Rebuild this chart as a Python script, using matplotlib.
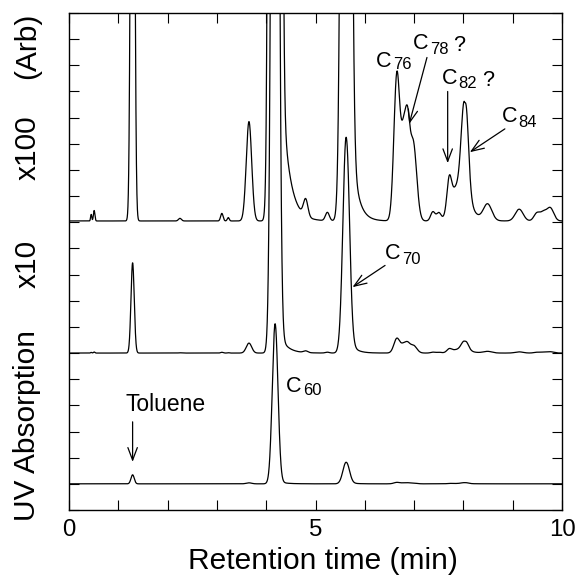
import numpy as np
import matplotlib
matplotlib.use("Agg")
import matplotlib.pyplot as plt
from matplotlib.ticker import MultipleLocator, FuncFormatter

plt.rcParams["font.family"] = ["Liberation Sans", "DejaVu Sans"]

# ---- data (raw detector signal, x1 units) ----
peak_center = [0.45, 0.51, 1.29, 2.25, 3.10, 3.23, 3.65, 4.18, 4.80, 5.24,
               5.62, 6.65, 6.79, 6.87, 6.98, 7.38, 7.50, 7.71, 7.85, 8.02,
               8.49, 9.13, 9.49, 9.62, 9.76]
peak_height = [0.0025, 0.0040, 0.345, 0.0010, 0.0029, 0.0013, 0.038, 6.12, 0.0065, 0.0032,
               0.825, 0.056, 0.031, 0.024, 0.030, 0.0035, 0.0030, 0.011, 0.0125, 0.0410,
               0.0062, 0.0045, 0.0030, 0.0030, 0.0050]
peak_sigma = [0.012, 0.015, 0.033, 0.030, 0.025, 0.020, 0.055, 0.057, 0.045, 0.040,
              0.065, 0.060, 0.055, 0.045, 0.070, 0.045, 0.045, 0.045, 0.120, 0.065,
              0.085, 0.080, 0.060, 0.060, 0.070]
# tailing of the big peaks (C60, C70, C84)
tail_center = [4.18, 5.62, 8.02]
tail_amp = [0.13, 0.08, 0.02]
tail_tau = [0.15, 0.12, 0.12]

gains = [1, 10, 100]
baselines = [1.0, 6.0, 11.05]

t = np.linspace(0, 10, 4001)
signal = np.zeros_like(t)
for c, h, s in zip(peak_center, peak_height, peak_sigma):
    signal += h * np.exp(-0.5 * ((t - c) / s) ** 2)
for c, a, tau in zip(tail_center, tail_amp, tail_tau):
    dx = t - c
    signal += np.where(dx > 0, a * np.exp(-np.clip(dx, 0, None) / tau) * (1 - np.exp(-(dx / 0.05) ** 2)), 0)

fig = plt.figure(figsize=(5.76, 5.76), dpi=100)
ax = fig.add_axes([0.1198, 0.1146, 0.856, 0.8628])

for g, b in zip(gains, baselines):
    ax.plot(t, b + g * signal, color="black", lw=0.9)

ax.set_xlim(0, 10)
ax.set_ylim(0, 19)
ax.xaxis.set_major_locator(MultipleLocator(1))
ax.xaxis.set_major_formatter(FuncFormatter(lambda v, p: f"{v:.0f}" if round(v) % 5 == 0 else ""))
ax.yaxis.set_major_locator(MultipleLocator(1))
ax.yaxis.set_major_formatter(FuncFormatter(lambda v, p: ""))
ax.tick_params(direction="in", length=7.5, width=0.8, top=True, right=True,
               labelsize=17.3, pad=6.5)
for sp in ax.spines.values():
    sp.set_linewidth(1.0)

# peak labels
lab = dict(fontsize=15.5, ha="left", va="baseline")
sub = dict(fontsize=12, ha="left", va="baseline")
ax.text(1.14, 3.79, "Toluene", fontsize=16.5, ha="left", va="baseline")
ax.text(4.40, 4.52, "C", **lab); ax.text(4.75, 4.39, "60", **sub)
ax.text(6.41, 9.60, "C", **lab); ax.text(6.75, 9.42, "70", **sub)
ax.text(6.23, 16.92, "C", **lab); ax.text(6.58, 16.86, "76", **sub)
ax.text(6.98, 17.62, "C", **lab); ax.text(7.32, 17.45, "78", **sub); ax.text(7.80, 17.56, "?", **lab)
ax.text(7.56, 16.30, "C", **lab); ax.text(7.90, 16.13, "82", **sub); ax.text(8.37, 16.22, "?", **lab)
ax.text(8.78, 14.82, "C", **lab); ax.text(9.11, 14.63, "84", **sub)

arrow = dict(arrowstyle="->,head_length=0.45,head_width=0.17", lw=0.9, color="black",
             shrinkA=0, shrinkB=0, mutation_scale=20)
ax.annotate("", xy=(1.29, 1.84), xytext=(1.29, 3.37), arrowprops=arrow)
ax.annotate("", xy=(5.75, 8.52), xytext=(6.41, 9.35), arrowprops=arrow)
ax.annotate("", xy=(6.90, 14.76), xytext=(7.26, 17.30), arrowprops=arrow)
ax.annotate("", xy=(7.68, 13.26), xytext=(7.68, 16.00), arrowprops=arrow)
ax.annotate("", xy=(8.13, 13.68), xytext=(8.84, 14.57), arrowprops=arrow)

# axis labels
ylab = dict(fontsize=21.5, rotation=90, rotation_mode="anchor", ha="center", va="baseline")
fig.text(0.0616, 0.261, "UV Absorption", **ylab)
fig.text(0.0616, 0.542, "x10", **ylab)
fig.text(0.0616, 0.744, "x100", **ylab)
fig.text(0.0616, 0.920, "(Arb)", **ylab)
fig.text(0.560, 0.013, "Retention time (min)", fontsize=21.5, ha="center", va="baseline")

fig.savefig("out.png", dpi=100)
